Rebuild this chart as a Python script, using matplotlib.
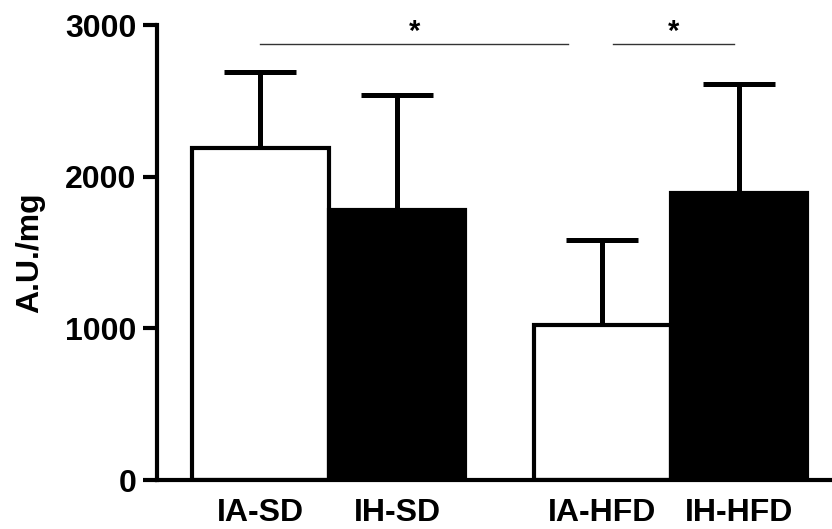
import matplotlib
matplotlib.use("Agg")
import matplotlib.pyplot as plt

plt.rcParams['font.family'] = ['Liberation Sans', 'DejaVu Sans']
plt.rcParams['font.weight'] = 'bold'

# data
groups = ['IA-SD', 'IH-SD', 'IA-HFD', 'IH-HFD']
means = [2190, 1780, 1020, 1890]
sems = [500, 760, 565, 720]
colors = ['white', 'black', 'white', 'black']
positions = [0, 1, 2.5, 3.5]

# significance brackets: (x start, x end, star x)
sig_lines = [(0.0, 2.25, 1.125), (2.58, 3.46, 3.02)]
sig_y = 2875

fig = plt.figure(figsize=(8.32, 5.29), dpi=100)
ax = fig.add_axes([0.1887, 0.0926, 0.8113, 0.8601])

ax.bar(positions, means, width=1.0, color=colors, edgecolor='black',
       linewidth=3, zorder=2)
ax.errorbar(positions, means, yerr=[[0]*len(sems), sems], fmt='none',
            ecolor='black', elinewidth=3.6, capsize=26, capthick=3.6, zorder=1)

for x0, x1, xs in sig_lines:
    ax.plot([x0, x1], [sig_y, sig_y], color='#333333', lw=1.0)
    ax.text(xs, sig_y - 10, '*', ha='center', va='bottom', fontsize=21,
            fontweight='bold')

ax.set_xlim(-0.755, 4.18)
ax.set_ylim(0, 3000)
ax.set_yticks([0, 1000, 2000, 3000])
ax.set_xticks(positions)
ax.set_xticklabels(groups)
ax.tick_params(axis='y', length=10, width=3, labelsize=23, pad=5)
ax.tick_params(axis='x', length=0, labelsize=23, pad=13)
ax.set_ylabel('A.U./mg', fontsize=23, fontweight='bold', labelpad=14)

for s in ['top', 'right']:
    ax.spines[s].set_visible(False)
for s in ['left', 'bottom']:
    ax.spines[s].set_linewidth(3)
ax.patch.set_visible(False)

fig.savefig('out.png', dpi=100)
